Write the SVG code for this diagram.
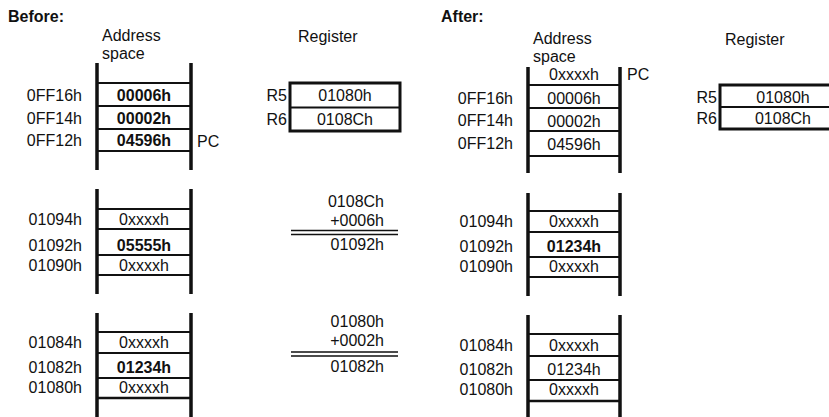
<svg xmlns="http://www.w3.org/2000/svg" width="829" height="417" viewBox="0 0 829 417">
<style>
text{font-family:"Liberation Sans",Arial,sans-serif;font-size:16px;fill:#111}
.b{font-weight:bold}
.e{text-anchor:end}
.m{text-anchor:middle}
.wall{stroke:#111;stroke-width:3.5;fill:none}
.row{stroke:#111;stroke-width:2;fill:none}
.reg{stroke:#111;stroke-width:3;fill:#fff}
.dl{stroke:#111;stroke-width:1.6}
</style>
<rect width="829" height="417" fill="#fff"/>
<g id="before">
<text x="8" y="22" class="b">Before:</text>
<text x="102" y="41">Address</text>
<text x="102" y="59">space</text>
<text x="298" y="42">Register</text>
</g>
<g id="before-stack-top">
<path class="wall" d="M97 63V170M191 63V170"/>
<path class="row" d="M97 83H191M97 106H191M97 129H191M97 151H191"/>
<text x="82" y="101" class="e">0FF16h</text>
<text x="82" y="124" class="e">0FF14h</text>
<text x="82" y="146" class="e">0FF12h</text>
<text x="144" y="101" class="m b">00006h</text>
<text x="144" y="124" class="m b">00002h</text>
<text x="144" y="146" class="m b">04596h</text>
<text x="197" y="147">PC</text>
</g>
<g id="before-register">
<rect class="reg" x="290" y="83" width="110" height="48"/>
<path class="row" d="M290 107.5H400"/>
<text x="287" y="101" class="e">R5</text>
<text x="287" y="125" class="e">R6</text>
<text x="345" y="101" class="m">01080h</text>
<text x="345" y="125" class="m">0108Ch</text>
</g>
<g id="before-stack-mid">
<path class="wall" d="M97 189V294M191 189V294"/>
<path class="row" d="M97 209H191M97 229H191M97 255H191M97 275H191"/>
<text x="82" y="225" class="e">01094h</text>
<text x="82" y="251" class="e">01092h</text>
<text x="82" y="271" class="e">01090h</text>
<text x="144" y="225" class="m">0xxxxh</text>
<text x="144" y="251" class="m b">05555h</text>
<text x="144" y="271" class="m">0xxxxh</text>
</g>
<g id="calc1">
<text x="384" y="207" class="e">0108Ch</text>
<text x="384" y="226" class="e">+0006h</text>
<path class="dl" d="M291 230.5H398M291 234.5H398"/>
<text x="384" y="250" class="e">01092h</text>
</g>
<g id="before-stack-bot">
<path class="wall" d="M97 313V417M191 313V417"/>
<path class="row" d="M97 332H191M97 353H191M97 378H191"/>
<path class="row" d="M97 398H191" style="stroke-width:2.6"/>
<text x="82" y="348" class="e">01084h</text>
<text x="82" y="373" class="e">01082h</text>
<text x="82" y="393" class="e">01080h</text>
<text x="144" y="348" class="m">0xxxxh</text>
<text x="144" y="373" class="m b">01234h</text>
<text x="144" y="393" class="m">0xxxxh</text>
</g>
<g id="calc2">
<text x="384" y="327" class="e">01080h</text>
<text x="384" y="346" class="e">+0002h</text>
<path class="dl" d="M291 352H398M291 356H398"/>
<text x="384" y="372" class="e">01082h</text>
</g>
<g id="after">
<text x="441" y="22" class="b">After:</text>
<text x="533" y="44">Address</text>
<text x="533" y="62">space</text>
<text x="725" y="45">Register</text>
</g>
<g id="after-stack-top">
<path class="wall" d="M528 67V173M620 67V173"/>
<path class="row" d="M528 85H620M528 108H620M528 131H620M528 156H620"/>
<text x="574" y="80" class="m">0xxxxh</text>
<text x="627" y="80">PC</text>
<text x="513" y="104" class="e">0FF16h</text>
<text x="513" y="126" class="e">0FF14h</text>
<text x="513" y="149" class="e">0FF12h</text>
<text x="574" y="104" class="m">00006h</text>
<text x="574" y="127" class="m">00002h</text>
<text x="574" y="150" class="m">04596h</text>
</g>
<g id="after-register">
<rect class="reg" x="720" y="85" width="111" height="44"/>
<path class="row" d="M720 107H831"/>
<text x="717" y="103" class="e">R5</text>
<text x="717" y="124" class="e">R6</text>
<text x="783" y="103" class="m">01080h</text>
<text x="783" y="124" class="m">0108Ch</text>
</g>
<g id="after-stack-mid">
<path class="wall" d="M528 193V296M620 193V296"/>
<path class="row" d="M528 211H620M528 232H620M528 257H620M528 277H620"/>
<text x="513" y="227" class="e">01094h</text>
<text x="513" y="252" class="e">01092h</text>
<text x="513" y="272" class="e">01090h</text>
<text x="574" y="227" class="m">0xxxxh</text>
<text x="574" y="252" class="m b">01234h</text>
<text x="574" y="272" class="m">0xxxxh</text>
</g>
<g id="after-stack-bot">
<path class="wall" d="M528 315V417M620 315V417"/>
<path class="row" d="M528 334H620M528 356H620M528 380H620"/>
<path class="row" d="M528 401H620" style="stroke-width:2.6"/>
<text x="513" y="351" class="e">01084h</text>
<text x="513" y="375" class="e">01082h</text>
<text x="513" y="395" class="e">01080h</text>
<text x="574" y="351" class="m">0xxxxh</text>
<text x="574" y="375" class="m">01234h</text>
<text x="574" y="395" class="m">0xxxxh</text>
</g>
<g id="connectors"></g>
</svg>
